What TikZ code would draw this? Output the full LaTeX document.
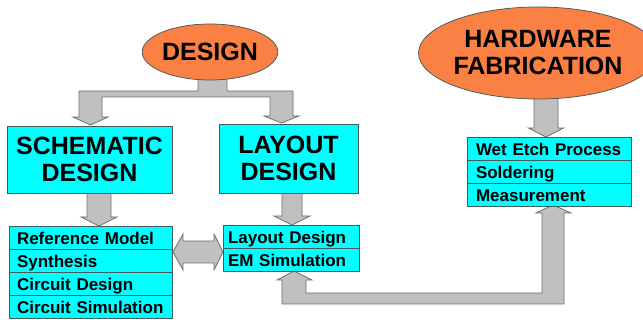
\documentclass[tikz,border=0pt]{standalone}
\usepackage{fontspec}
\setmainfont{Liberation Sans}
\usetikzlibrary{shapes.geometric,positioning,calc,backgrounds}
\definecolor{ovalorange}{RGB}{250,128,68}
\definecolor{boxcyan}{RGB}{0,255,255}
\definecolor{arrowfill}{RGB}{192,192,192}
\definecolor{arrowline}{RGB}{110,110,110}
\definecolor{edgegray}{RGB}{70,90,90}
\tikzset{every picture/.style={line width=0.75pt}}
\tikzset{
  oval/.style={ellipse, draw=edgegray, fill=ovalorange, inner sep=0pt, align=center,
    font=\bfseries\fontsize{25}{27}\selectfont},
  titlebox/.style={draw=edgegray, fill=boxcyan, inner sep=0pt, align=center,
    font=\bfseries\fontsize{25}{27}\selectfont},
  row/.style={draw=edgegray, fill=boxcyan, minimum height=23pt, inner ysep=0pt,
    outer sep=0pt, align=left, text height=15pt, text depth=1.5pt,
    font=\bfseries\fontsize{17}{19}\selectfont},
  fat/.style={draw=arrowline, fill=arrowfill, line width=0.8pt},
}
% block arrow pointing down: x, upper node, lower node, half shaft, half head
\newcommand{\fatdown}[5]{%
  \draw[fat] let \p1=(#2.south), \p2=(#3.north) in
    ({#1pt-#4pt},\y1+3pt) -- ({#1pt+#4pt},\y1+3pt) -- ({#1pt+#4pt},\y2+9pt)
    -- ({#1pt+#5pt},\y2+9pt) -- ({#1pt},\y2) -- ({#1pt-#5pt},\y2+9pt)
    -- ({#1pt-#4pt},\y2+9pt) -- cycle;}

\begin{document}
\begin{tikzpicture}[x=1pt,y=-1pt]
\useasboundingbox (0,0) rectangle (643,320);

% ovals
\node[oval, minimum width=132pt, minimum height=56pt] (design) at (210,52) {DESIGN};
\node[oval, minimum width=206pt, minimum height=92pt] (hw) at (538,53) {HARDWARE\\FABRICATION};

% title boxes
\node[titlebox, minimum width=165pt, minimum height=67pt] (schem) at (89.5,159.5) {SCHEMATIC\\DESIGN};
\node[titlebox, minimum width=139pt, minimum height=69pt] (layout) at (288.5,158.5) {LAYOUT\\DESIGN};

% schematic list
\node[row, inner xsep=8pt, text width=147pt, anchor=north west] (ref) at (9,226) {Reference Model};
\node[row, inner xsep=8pt, text width=147pt, below=0pt of ref] (syn) {Synthesis};
\node[row, inner xsep=8pt, text width=147pt, below=0pt of syn] (cdes) {Circuit Design};
\node[row, inner xsep=8pt, text width=147pt, below=0pt of cdes] (csim) {Circuit Simulation};

% layout list
\node[row, inner xsep=5pt, text width=126pt, anchor=north west] (lay) at (223,225) {Layout Design};
\node[row, inner xsep=5pt, text width=126pt, below=0pt of lay] (em) {EM Simulation};

% fabrication list
\node[row, inner xsep=9pt, text width=146pt, anchor=north west] (wet) at (467,137) {Wet Etch Process};
\node[row, inner xsep=9pt, text width=146pt, below=0pt of wet] (sold) {Soldering};
\node[row, inner xsep=9pt, text width=146pt, below=0pt of sold] (meas) {Measurement};

\begin{scope}[on background layer]
% split arrow from DESIGN
\draw[fat] (198,70) -- (198,91) -- (79,91) -- (79,117) -- (73,117) -- (90.5,125)
  -- (108,117) -- (102,117) -- (102,97) -- (270,97) -- (270,116) -- (264,116)
  -- (281.5,123) -- (299,116) -- (293,116) -- (293,91) -- (227,91) -- (227,70) -- cycle;
\fatdown{99}{schem}{ref}{12}{18}
\fatdown{292}{layout}{lay}{10}{18}
\fatdown{546}{hw}{wet}{12}{17.5}
% two-way arrow between the lists
\draw[fat] (173,252) -- (183,234) -- (183,241) -- (214,241) -- (214,234) -- (223,252)
  -- (214,270) -- (214,263) -- (183,263) -- (183,270) -- cycle;
% return arrow from fabrication
\draw[fat] (294,271) -- (312,280) -- (306,280) -- (306,293) -- (542,293) -- (542,213)
  -- (536,213) -- (553,205) -- (571,213) -- (564,213) -- (564,304) -- (282,304)
  -- (282,280) -- (277,280) -- cycle;
\end{scope}
\end{tikzpicture}
\end{document}
